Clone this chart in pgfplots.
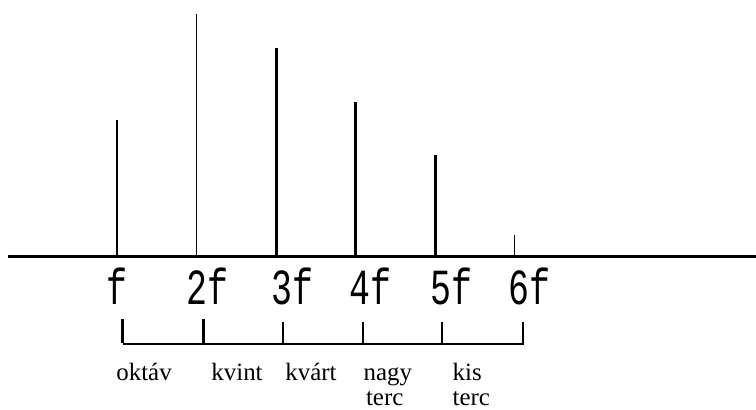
\documentclass[border=0pt]{standalone}
\usepackage{pgfplots}
\pgfplotsset{compat=1.18}
\usepackage{fontspec}
\setmainfont{Liberation Serif}
\newfontfamily\harmfont{Liberation Mono}

\begin{document}
\begin{tikzpicture}
\begin{axis}[
  scale only axis,
  width=756bp, height=410bp,
  xmin=-0.472, xmax=9.038,
  ymin=-153, ymax=257,
  hide axis,
  clip=false,
]
% baseline (frequency axis)
\addplot[black, line width=3bp] coordinates {(-0.37,0) (9.038,0)};

% partial amplitudes: thin and thick spectral lines
\addplot[ycomb, black, line width=1.4bp, mark=none] coordinates {
  (1,137) (2,243) (6,22)
};
\addplot[ycomb, black, line width=3bp, mark=none] coordinates {
  (3,209) (4,155) (5,102)
};

% harmonic labels
\begin{scope}[every node/.style={font=\harmfont\fontsize{35}{35}\selectfont, yscale=1.45, inner sep=0pt}]
\node[anchor=base] at (axis cs:1,-48) {f};
\node[anchor=base west] at (axis cs:1.87,-48) {2f};
\node[anchor=base west] at (axis cs:2.94,-48) {3f};
\node[anchor=base west] at (axis cs:3.92,-48) {4f};
\node[anchor=base west] at (axis cs:4.94,-48) {5f};
\node[anchor=base west] at (axis cs:5.92,-48) {6f};
\end{scope}

% interval bracket
\addplot[black, line width=1.3bp] coordinates {(1.075,-87) (6.107,-87) (6.107,-65)};
\addplot[black, line width=3bp] coordinates {(1.075,-86) (1.075,-62)};
\addplot[black, line width=3bp] coordinates {(2.082,-86) (2.082,-62)};
\addplot[black, line width=1.3bp] coordinates {(3.088,-87) (3.088,-65)};
\addplot[black, line width=1.3bp] coordinates {(4.094,-87) (4.094,-65)};
\addplot[black, line width=1.3bp] coordinates {(5.088,-87) (5.088,-65)};

% interval names
\begin{scope}[every node/.style={font=\fontsize{25}{27}\selectfont, inner sep=0pt}]
\node[anchor=base] at (axis cs:1.34,-123) {oktáv};
\node[anchor=base] at (axis cs:2.51,-123) {kvint};
\node[anchor=base] at (axis cs:3.44,-123) {kvárt};
\node[anchor=base west] at (axis cs:4.1,-123) {nagy};
\node[anchor=base west] at (axis cs:4.13,-148) {terc};
\node[anchor=base west] at (axis cs:5.22,-123) {kis};
\node[anchor=base west] at (axis cs:5.22,-148) {terc};
\end{scope}
\end{axis}
\pgfresetboundingbox
\path[use as bounding box] (0,0) rectangle (756bp,410bp);
\end{tikzpicture}
\end{document}
